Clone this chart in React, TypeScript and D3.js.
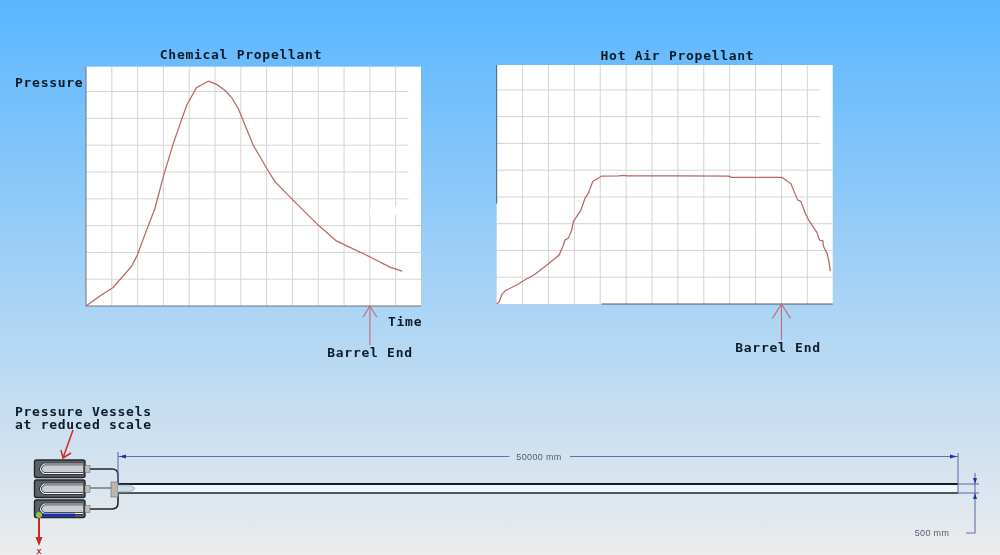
import * as d3 from 'd3'

// pressure traces, read in grid cells from the two graphs
const chemicalTime = [0, 0.54, 1.06, 1.77, 1.99, 2.35, 2.67, 2.99, 3.38, 3.9, 4.28, 4.74, 5.06, 5.38, 5.64, 5.9, 6.48, 7.0, 7.32, 8.03, 9.0, 9.7, 10.99, 11.77, 12.25]
const chemicalPressure = [0, 0.37, 0.7, 1.49, 1.9, 2.84, 3.64, 4.81, 6.06, 7.49, 8.15, 8.39, 8.27, 8.05, 7.78, 7.37, 6.0, 5.14, 4.64, 3.94, 3.02, 2.43, 1.84, 1.45, 1.3]
const hotAirTime = [0, 0.1, 0.19, 0.32, 0.77, 1.03, 1.48, 2.0, 2.41, 2.55, 2.64, 2.77, 2.9, 2.96, 3.16, 3.26, 3.41, 3.54, 3.71, 4.06, 4.7, 4.9, 5.03, 7.09, 8.96, 9.08, 11.02, 11.15, 11.37, 11.62, 11.75, 11.92, 12.05, 12.37, 12.47, 12.6, 12.63, 12.76, 12.82, 12.89]
const hotAirPressure = [0, 0.09, 0.34, 0.49, 0.71, 0.87, 1.11, 1.5, 1.83, 2.14, 2.39, 2.46, 2.77, 3.08, 3.37, 3.52, 3.95, 4.14, 4.58, 4.78, 4.79, 4.81, 4.79, 4.79, 4.78, 4.73, 4.73, 4.64, 4.49, 3.89, 3.83, 3.39, 3.14, 2.67, 2.39, 2.36, 2.14, 1.9, 1.65, 1.23]
const gridColumns = d3.range(1, 13)
const gridRows = d3.range(1, 9)
const barrelEndTime = 11

const MONO = '"DejaVu Sans Mono", monospace'
const INK = '#0c1c2a'
const TRACE = '#bd6463'
const GRID = '#d4d4d8'
const ARROW = '#c06a72'
const DIM = '#6670ac'

function Label({ x, y, children, anchor = 'start' }: { x: number; y: number; children: string; anchor?: string }) {
  return (
    <text x={x} y={y} textAnchor={anchor} fontFamily={MONO} fontSize={13} letterSpacing={0.72} fontWeight={700} fill={INK}>
      {children}
    </text>
  )
}

function Graph({
  left,
  right,
  top,
  bottom,
  title,
  titleX,
  titleY,
  time,
  pressure,
  longRows,
  labelX,
  labelY,
  arrowBottom,
  arrowSpread,
  hotAir = false,
}: {
  left: number
  right: number
  top: number
  bottom: number
  title: string
  titleX: number
  titleY: number
  time: number[]
  pressure: number[]
  longRows: number
  labelX: number
  labelY: number
  arrowBottom: number
  arrowSpread: number
  hotAir?: boolean
}) {
  const x = d3.scaleLinear().domain([0, 12.98]).range([left, right])
  const y = d3.scaleLinear().domain([0, 8.93]).range([bottom, top])
  const line = d3
    .line<number>()
    .x((d) => x(d))
    .y((_, i) => y(pressure[i]))
  const endX = x(barrelEndTime)

  return (
    <g>
      <rect x={left} y={top} width={right - left} height={bottom - top} fill="#fff" />
      {gridColumns.map((c) => (
        <line key={c} x1={x(c)} x2={x(c)} y1={top} y2={bottom} stroke={GRID} strokeWidth={1} />
      ))}
      {gridRows.map((r) => (
        <line key={r} x1={left} x2={r <= longRows ? right : x(12.5)} y1={y(r)} y2={y(r)} stroke={GRID} strokeWidth={1} />
      ))}
      {!hotAir && <rect x={x(11)} y={y(3.7)} width={x(12.4) - x(11)} height={8} fill="#fff" />}
      {hotAir ? (
        <g stroke="#4a5a68" strokeWidth={1}>
          <line x1={left} x2={left} y1={top} y2={y(3.75)} />
          <line x1={x(4.05)} x2={right} y1={bottom} y2={bottom} />
        </g>
      ) : (
        <g stroke="#6a7480" strokeWidth={1}>
          <line x1={left} x2={left} y1={top} y2={bottom} />
          <line x1={left} x2={right} y1={bottom} y2={bottom} />
        </g>
      )}
      <path d={line(time) ?? ''} fill="none" stroke={TRACE} strokeWidth={1.25} />
      <g stroke={ARROW} strokeWidth={1.1} fill="none">
        <line x1={endX} x2={endX} y1={bottom} y2={arrowBottom} />
        <path d={`M${endX - arrowSpread},${bottom + arrowSpread * 1.6} L${endX},${bottom} L${endX + arrowSpread},${bottom + arrowSpread * 1.6}`} />
      </g>
      <Label x={titleX} y={titleY} anchor="middle">
        {title}
      </Label>
      <Label x={labelX} y={labelY} anchor="middle">
        Barrel End
      </Label>
    </g>
  )
}

function Vessel({ top }: { top: number }) {
  return (
    <g>
      <rect x={34.5} y={top} width={50.5} height={17.5} rx={2} fill="#5b6068" stroke="#24272c" strokeWidth={1.4} />
      <path d={`M83,${top + 4} H44 Q37,${top + 9} 44,${top + 13.5} H83`} fill="#c9ccd0" stroke="#20242a" strokeWidth={2.6} />
      <path d={`M83,${top + 4} H44 Q37,${top + 9} 44,${top + 13.5} H83`} fill="none" stroke="#f4f6f8" strokeWidth={1.1} />
      <rect x={85} y={top + 5.5} width={5} height={7} fill="#bdbdb8" stroke="#666" strokeWidth={0.5} />
    </g>
  )
}

function Schematic() {
  // barrel length drawn to its dimension: 50000 mm
  const mm = d3.scaleLinear().domain([0, 50000]).range([118, 958])
  const x0 = mm(0)
  const x1 = mm(50000)
  return (
    <g>
      <g fill="none" stroke="#24272c" strokeWidth={1.6}>
        <path d="M90,469 H112 Q118,469 118,475 V484" />
        <path d="M90,509 H112 Q118,509 118,503 V494" />
      </g>
      <line x1={90} x2={111} y1={488} y2={488} stroke="#777" strokeWidth={1.5} />
      {[460, 480, 500].map((t) => (
        <Vessel key={t} top={t} />
      ))}
      <rect x={x0} y={484} width={x1 - x0} height={9} fill="#eaf8ff" />
      <line x1={x0} x2={x1} y1={484} y2={484} stroke="#1a1d22" strokeWidth={2} />
      <line x1={x0} x2={x1} y1={493} y2={493} stroke="#1f252b" strokeWidth={1.5} />
      <rect x={111} y={482} width={7} height={15} fill="#b9b7ae" stroke="#666" strokeWidth={0.6} />
      <path d="M118,485 H130 L135,488.5 L130,492 H118" fill="#c9dcea" stroke="#8494a4" strokeWidth={0.7} />

      {/* dimensions */}
      <g stroke={DIM} strokeWidth={1.1} fill="none">
        <line x1={x0} x2={x0} y1={452} y2={483} />
        <line x1={x1} x2={x1} y1={453} y2={493} />
        <line x1={x0} x2={mm(23300)} y1={456.5} y2={456.5} />
        <line x1={mm(26900)} x2={x1} y1={456.5} y2={456.5} />
        <line x1={x1} x2={979} y1={484} y2={484} />
        <line x1={x1} x2={979} y1={493} y2={493} />
        <path d="M975,473 V533 H966" />
      </g>
      <g fill="#1d35a8">
        <path d={`M${x0 + 1},456.5 l7,-2 v4 z`} />
        <path d={`M${x1 - 1},456.5 l-7,-2 v4 z`} />
        <path d="M975,484 l-2,-6 h4 z" />
        <path d="M975,493 l-2,6 h4 z" />
      </g>
      <text x={539} y={459.5} textAnchor="middle" fontFamily="'Liberation Sans', sans-serif" fontSize={9} fill="#555c70" letterSpacing={0.35}>
        50000 mm
      </text>
      <text x={932} y={535.5} textAnchor="middle" fontFamily="'Liberation Sans', sans-serif" fontSize={9} fill="#555c70" letterSpacing={0.35}>
        500 mm
      </text>

      {/* origin triad */}
      <rect x={41} y={513.5} width={34} height={3} fill="#1b2fb0" />
      <line x1={39} x2={39} y1={516} y2={538} stroke="#c8262c" strokeWidth={2} />
      <path d="M35.5,537 H42.5 L39,546 Z" fill="#c8262c" />
      <circle cx={39} cy={515} r={3} fill="#8cc63f" />
      <text x={39} y={554} textAnchor="middle" fontFamily="'Liberation Sans', sans-serif" fontSize={9} fontWeight={700} fill="#c8262c">
        x
      </text>

      {/* callout arrow */}
      <g stroke="#d7262b" strokeWidth={1.5} fill="none">
        <line x1={73} x2={63} y1={430} y2={458} />
        <path d="M61,450 L63,458 L71,453" />
      </g>
      <Label x={15} y={416}>
        Pressure Vessels
      </Label>
      <Label x={15} y={429}>
        at reduced scale
      </Label>
    </g>
  )
}

export default function App() {
  return (
    <svg width={1000} height={555} viewBox="0 0 1000 555" style={{ position: 'absolute', left: 0, top: 0 }}>
      <defs>
        <linearGradient id="sky" x1="0" x2="0" y1="0" y2="1">
          <stop offset="0" stopColor="#5ab6ff" />
          <stop offset="1" stopColor="#ececec" />
        </linearGradient>
        <filter id="soft" x="0" y="0" width="100%" height="100%">
          <feGaussianBlur stdDeviation="0.35" />
        </filter>
      </defs>
      <rect width={1000} height={555} fill="url(#sky)" />
      <g filter="url(#soft)">
        <Graph
          left={86}
          right={421}
          top={66.7}
          bottom={306}
          title="Chemical Propellant"
          titleX={241}
          titleY={59}
          time={chemicalTime}
          pressure={chemicalPressure}
          longRows={3}
          labelX={370}
          labelY={356.5}
          arrowBottom={345}
          arrowSpread={7}
        />
        <Graph
          left={496.7}
          right={832.7}
          top={65}
          bottom={304}
          title="Hot Air Propellant"
          titleX={677.5}
          titleY={60}
          time={hotAirTime}
          pressure={hotAirPressure}
          longRows={5}
          labelX={778}
          labelY={351.5}
          arrowBottom={340}
          arrowSpread={9}
          hotAir
        />
        <Label x={15} y={87}>
          Pressure
        </Label>
        <Label x={388} y={326}>
          Time
        </Label>
        <Schematic />
      </g>
    </svg>
  )
}
